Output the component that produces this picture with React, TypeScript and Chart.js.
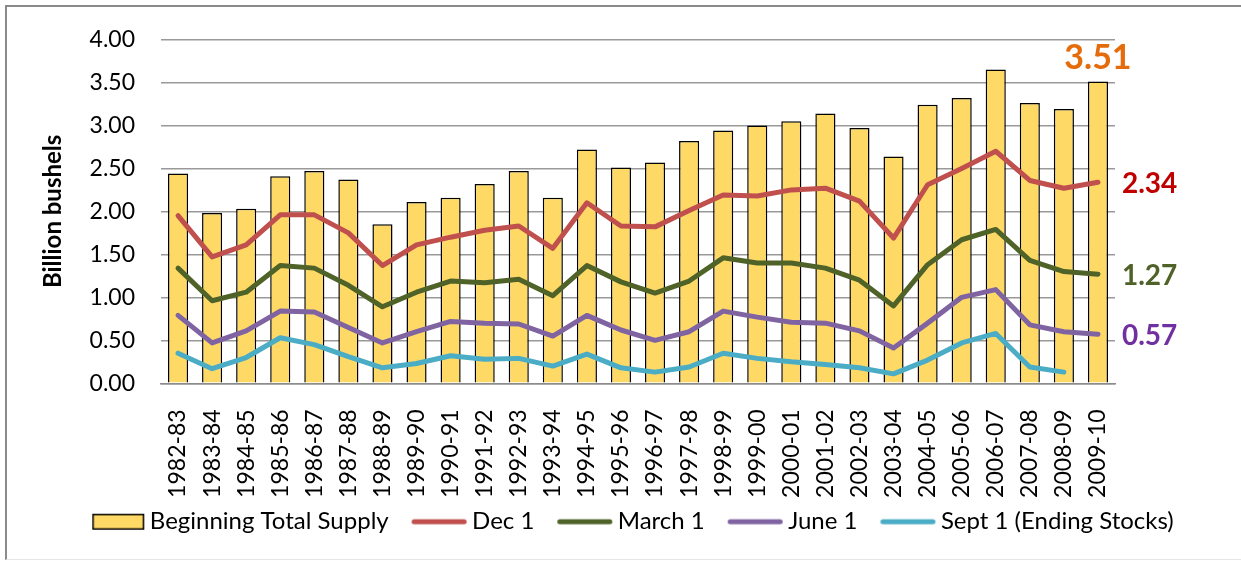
import React, { useEffect, useRef } from 'react';
import { Chart, registerables } from 'chart.js';

Chart.register(...registerables);

const categories = [
  '1982-83', '1983-84', '1984-85', '1985-86', '1986-87', '1987-88', '1988-89',
  '1989-90', '1990-91', '1991-92', '1992-93', '1993-94', '1994-95', '1995-96',
  '1996-97', '1997-98', '1998-99', '1999-00', '2000-01', '2001-02', '2002-03',
  '2003-04', '2004-05', '2005-06', '2006-07', '2007-08', '2008-09', '2009-10',
];

const beginningSupply = [2.44, 1.98, 2.03, 2.41, 2.47, 2.37, 1.85, 2.11, 2.16, 2.32, 2.47, 2.16, 2.72, 2.51, 2.57, 2.82, 2.94, 3.0, 3.05, 3.14, 2.97, 2.64, 3.24, 3.32, 3.65, 3.26, 3.19, 3.51];
const dec1 = [1.95, 1.47, 1.61, 1.96, 1.96, 1.75, 1.37, 1.61, 1.7, 1.78, 1.83, 1.57, 2.1, 1.83, 1.82, 2.01, 2.19, 2.18, 2.25, 2.27, 2.12, 1.69, 2.31, 2.5, 2.7, 2.36, 2.27, 2.34];
const march1 = [1.34, 0.96, 1.06, 1.37, 1.34, 1.14, 0.89, 1.06, 1.19, 1.17, 1.21, 1.02, 1.37, 1.18, 1.05, 1.19, 1.46, 1.4, 1.4, 1.34, 1.2, 0.9, 1.38, 1.67, 1.79, 1.43, 1.3, 1.27];
const june1 = [0.79, 0.47, 0.61, 0.84, 0.83, 0.65, 0.47, 0.6, 0.72, 0.7, 0.69, 0.55, 0.79, 0.62, 0.5, 0.6, 0.84, 0.77, 0.71, 0.7, 0.61, 0.41, 0.7, 1.0, 1.09, 0.68, 0.6, 0.57];
const sept1 = [0.35, 0.17, 0.3, 0.53, 0.45, 0.31, 0.18, 0.23, 0.32, 0.28, 0.29, 0.2, 0.34, 0.18, 0.13, 0.19, 0.35, 0.29, 0.25, 0.22, 0.18, 0.11, 0.27, 0.47, 0.58, 0.19, 0.13, null];

const seriesLabels = ['Beginning Total Supply', 'Dec 1', 'March 1', 'June 1', 'Sept 1 (Ending Stocks)'];
const seriesColors = ['#FFD966', '#C0504D', '#4F6228', '#8064A2', '#4BACC6'];
const endLabelColors = ['#E46C0A', '#C00000', '#4F6228', '#7030A0'];
const yTicks = { min: 0, max: 4, step: 0.5 };

const FONT = 'Lato';
const SYM_W = 75;
const SYM_H = 20;

function makeBoxSymbol(fill: string) {
  const c = document.createElement('canvas');
  c.width = SYM_W;
  c.height = SYM_H;
  const g = c.getContext('2d')!;
  g.fillStyle = fill;
  g.fillRect(22.75, 2.75, 50.5, 14.5);
  g.strokeStyle = '#000';
  g.lineWidth = 1.5;
  g.strokeRect(22.75, 2.75, 50.5, 14.5);
  return c;
}

function makeLineSymbol(color: string) {
  const c = document.createElement('canvas');
  c.width = SYM_W;
  c.height = SYM_H;
  const g = c.getContext('2d')!;
  g.strokeStyle = color;
  g.lineWidth = 5;
  g.lineCap = 'round';
  g.beginPath();
  g.moveTo(21.5, 10);
  g.lineTo(71.5, 10);
  g.stroke();
  return c;
}

const endLabelPlugin = {
  id: 'endLabels',
  afterDatasetsDraw(chart: any) {
    const { ctx, scales } = chart;
    const xs = scales.x;
    const ys = scales.y;
    const last = categories.length - 1;
    const xPix = xs.getPixelForValue(last);
    ctx.save();
    ctx.font = `bold 34px ${FONT}`;
    ctx.fillStyle = endLabelColors[0];
    ctx.textAlign = 'center';
    ctx.textBaseline = 'middle';
    ctx.fillText(beginningSupply[last].toFixed(2), xPix, ys.getPixelForValue(beginningSupply[last]) - 24);
    const lineSeries = [dec1, march1, june1];
    ctx.font = `bold 28px ${FONT}`;
    ctx.textAlign = 'left';
    lineSeries.forEach((s, i) => {
      const v = s[last] as number;
      ctx.fillStyle = endLabelColors[i + 1];
      ctx.fillText(v.toFixed(2), xPix + 24, ys.getPixelForValue(v) + 2);
    });
    ctx.restore();
  },
};

export default function App() {
  const ref = useRef<HTMLCanvasElement>(null);

  useEffect(() => {
    document.body.style.margin = '0';
    const canvas = ref.current!;
    const symbols = [
      makeBoxSymbol(seriesColors[0]),
      makeLineSymbol(seriesColors[1]),
      makeLineSymbol(seriesColors[2]),
      makeLineSymbol(seriesColors[3]),
      makeLineSymbol(seriesColors[4]),
    ];
    const lineDs = (label: string, data: (number | null)[], color: string) => ({
      type: 'line' as const,
      label,
      data,
      borderColor: color,
      backgroundColor: color,
      borderWidth: 5,
      pointRadius: 0,
      pointHoverRadius: 0,
      tension: 0,
      borderJoinStyle: 'round' as const,
      borderCapStyle: 'round' as const,
      order: 0,
    });
    const chart = new Chart(canvas, {
      type: 'bar',
      data: {
        labels: categories,
        datasets: [
          {
            type: 'bar',
            label: seriesLabels[0],
            data: beginningSupply,
            backgroundColor: seriesColors[0],
            borderColor: '#000',
            borderWidth: 1.5,
            barPercentage: 0.59,
            categoryPercentage: 1,
            order: 1,
          } as any,
          lineDs(seriesLabels[1], dec1, seriesColors[1]),
          lineDs(seriesLabels[2], march1, seriesColors[2]),
          lineDs(seriesLabels[3], june1, seriesColors[3]),
          lineDs(seriesLabels[4], sept1, seriesColors[4]),
        ],
      },
      options: {
        responsive: false,
        animation: false,
        devicePixelRatio: 1,
        events: [],
        layout: { padding: { top: 32.5, bottom: 16.3, left: 0, right: 14.5 } },
        plugins: {
          tooltip: { enabled: false },
          title: { display: false },
          legend: {
            display: true,
            position: 'bottom',
            labels: {
              usePointStyle: true,
              pointStyleWidth: 60,
              boxHeight: 24,
              padding: 11.4,
              color: '#000',
              font: { family: FONT, size: 24 },
              generateLabels: (ch: any) =>
                ch.data.datasets.map((ds: any, i: number) => ({
                  text: ds.label,
                  pointStyle: symbols[i],
                  datasetIndex: i,
                  hidden: false,
                  lineWidth: 0,
                  fillStyle: seriesColors[i],
                  strokeStyle: seriesColors[i],
                  fontColor: '#000',
                })),
            },
          },
        },
        scales: {
          x: {
            type: 'category',
            offset: true,
            grid: { display: false, drawTicks: false },
            border: { display: true, color: '#8c8c8c', width: 1.5 },
            ticks: {
              autoSkip: false,
              maxRotation: 90,
              minRotation: 90,
              padding: 26,
              color: '#000',
              font: { family: FONT, size: 23 },
            },
            afterFit: (s: any) => {
              s.height = 115;
            },
          },
          y: {
            type: 'linear',
            position: 'left',
            min: yTicks.min,
            max: yTicks.max,
            grid: { display: true, color: '#999999', lineWidth: 1.5, drawTicks: false },
            border: { display: false },
            ticks: {
              stepSize: yTicks.step,
              padding: 26,
              color: '#000',
              font: { family: FONT, size: 23 },
              callback: (v: any) => Number(v).toFixed(2),
            },
            title: {
              display: true,
              text: 'Billion bushels',
              color: '#000',
              font: { family: FONT, size: 24, weight: 'bold' },
              padding: { top: 31.6, bottom: 0 },
            },
            afterFit: (s: any) => {
              s.width = 154;
              s.paddingTop = 0;
              s.paddingBottom = 0;
            },
          },
          yRight: {
            type: 'linear',
            position: 'right',
            display: true,
            grid: { display: false, drawTicks: false },
            border: { display: false },
            ticks: { display: false },
            afterFit: (s: any) => {
              s.width = 129.5;
            },
          },
        },
      } as any,
      plugins: [endLabelPlugin],
    });
    return () => chart.destroy();
  }, []);

  return (
    <div style={{ position: 'relative', width: 1241, height: 561, overflow: 'hidden', background: '#fff' }}>
      <div
        style={{
          position: 'absolute',
          left: 5,
          top: 5,
          width: 1256,
          height: 555,
          boxSizing: 'border-box',
          borderLeft: '2px solid #8a8a8a',
          borderTop: '2px solid #8a8a8a',
          borderBottom: '1px solid #e6e6e6',
        }}
      />
      <canvas ref={ref} width={1252} height={553} style={{ position: 'absolute', left: 7, top: 7 }} />
    </div>
  );
}
